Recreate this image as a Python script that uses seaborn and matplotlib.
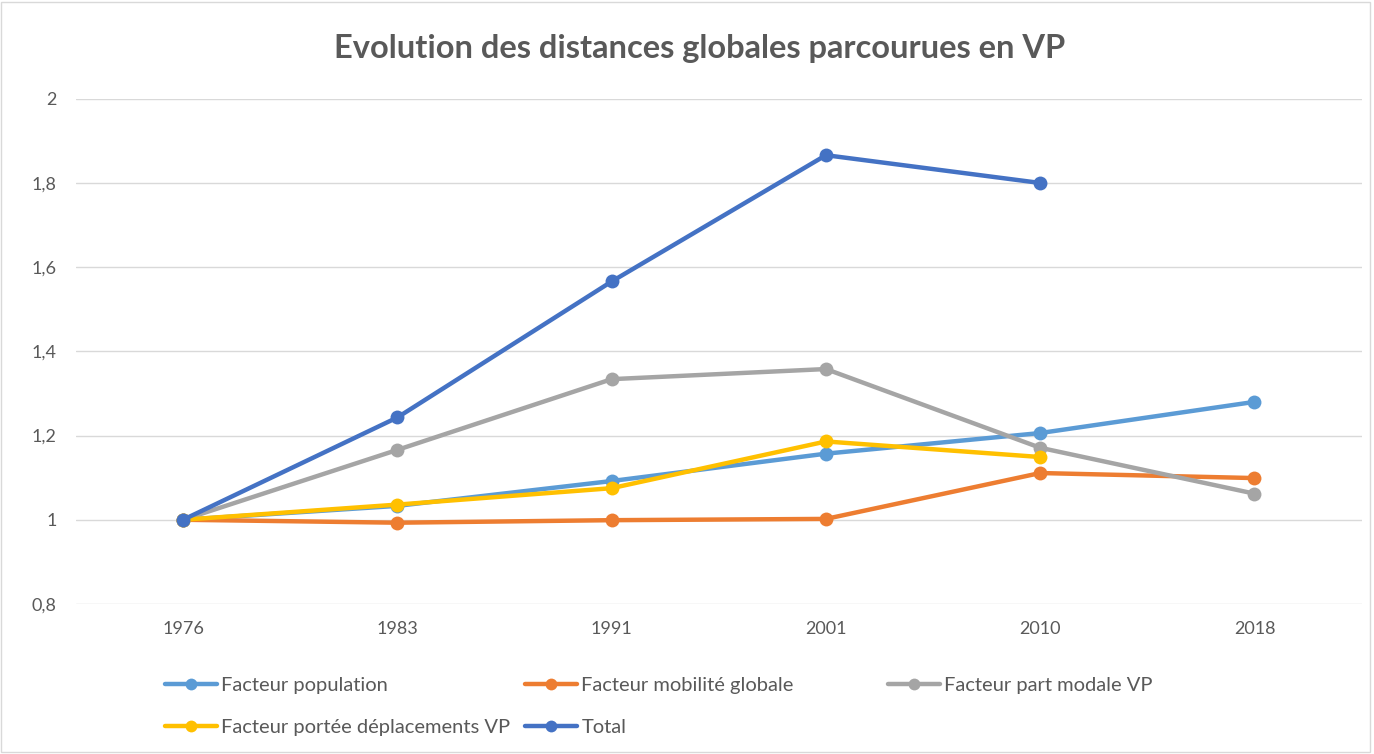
import matplotlib
matplotlib.use("Agg")
import matplotlib.pyplot as plt
from matplotlib.lines import Line2D
from matplotlib.patches import Rectangle
from matplotlib.ticker import FuncFormatter
import numpy as np
import pandas as pd
import seaborn as sns

# ---------------------------------------------------------------------------
# Data
# ---------------------------------------------------------------------------
annees = ["1976", "1983", "1991", "2001", "2010", "2018"]

facteur_population = [1.0, 1.033, 1.092, 1.157, 1.206, 1.280]
facteur_mobilite = [1.0, 0.993, 0.999, 1.002, 1.111, 1.099]
facteur_part_modale = [1.0, 1.166, 1.334, 1.358, 1.171, 1.062]
facteur_portee = [1.0, 1.036, 1.075, 1.186, 1.149, None]
total = [1.0, 1.243, 1.566, 1.866, 1.800, None]

series = {
    "Facteur population": facteur_population,
    "Facteur mobilité globale": facteur_mobilite,
    "Facteur part modale VP": facteur_part_modale,
    "Facteur portée déplacements VP": facteur_portee,
    "Total": total,
}
couleurs = {
    "Facteur population": "#5B9BD5",
    "Facteur mobilité globale": "#ED7D31",
    "Facteur part modale VP": "#A5A5A5",
    "Facteur portée déplacements VP": "#FFC000",
    "Total": "#4472C4",
}

rows = []
for nom, vals in series.items():
    for a, v in zip(annees, vals):
        if v is not None:
            rows.append({"annee": a, "valeur": v, "serie": nom})
df = pd.DataFrame(rows)

sns.set_theme(style="white")
plt.rcParams["font.family"] = ["Lato", "DejaVu Sans"]
TXT = "#595959"

fig = plt.figure(figsize=(13.74, 7.54), dpi=100)
ax = fig.add_axes([0.0553, 0.199, 0.9357, 0.670])

sns.lineplot(
    data=df, x="annee", y="valeur", hue="serie", hue_order=list(series),
    palette=couleurs, marker="o", markersize=10, markeredgewidth=0,
    linewidth=3.2, sort=False, legend=False, ax=ax,
)

ax.set_xlim(-0.5, 5.5)
ax.set_ylim(0.8, 2.0)
ax.set_yticks(np.arange(0.8, 2.01, 0.2))
ax.yaxis.set_major_formatter(FuncFormatter(lambda v, _: f"{v:.1f}".rstrip("0").rstrip(".").replace(".", ",")))
ax.grid(axis="y", color="#d9d9d9", lw=1)
ax.set_axisbelow(True)
for s in ax.spines.values():
    s.set_visible(False)
ax.tick_params(axis="both", length=0, labelsize=13, labelcolor=TXT)
ax.tick_params(axis="y", pad=14)
ax.tick_params(axis="x", pad=12)
ax.set_xlabel("")
ax.set_ylabel("")

fig.text(0.509, 0.936, "Evolution des distances globales parcourues en VP",
         ha="center", va="center", fontsize=23.5, fontweight="bold", color=TXT)

# legend laid out like Excel: equal-width columns
def handle(nom):
    return Line2D([], [], color=couleurs[nom], lw=3.2, marker="o", ms=8.5, mew=0)

noms = list(series)
cols = [
    ([noms[0], noms[3]], 0.120, 0.0630),
    ([noms[1], noms[4]], 0.382, 0.0630),
    ([noms[2]], 0.646, 0.0915),
]
for entries, x, y in cols:
    leg = fig.legend(
        [handle(n) for n in entries], entries, loc="center left",
        bbox_to_anchor=(x, y), frameon=False, fontsize=14.5, borderpad=0,
        borderaxespad=0, handlelength=2.6, handletextpad=0.2, labelspacing=1.2,
    )
    for t in leg.get_texts():
        t.set_color(TXT)

fig.patches.append(Rectangle((0.001, 0.002), 0.996, 0.996, transform=fig.transFigure,
                             fill=False, edgecolor="#d9d9d9", lw=1))

fig.savefig("out.png", dpi=100)
